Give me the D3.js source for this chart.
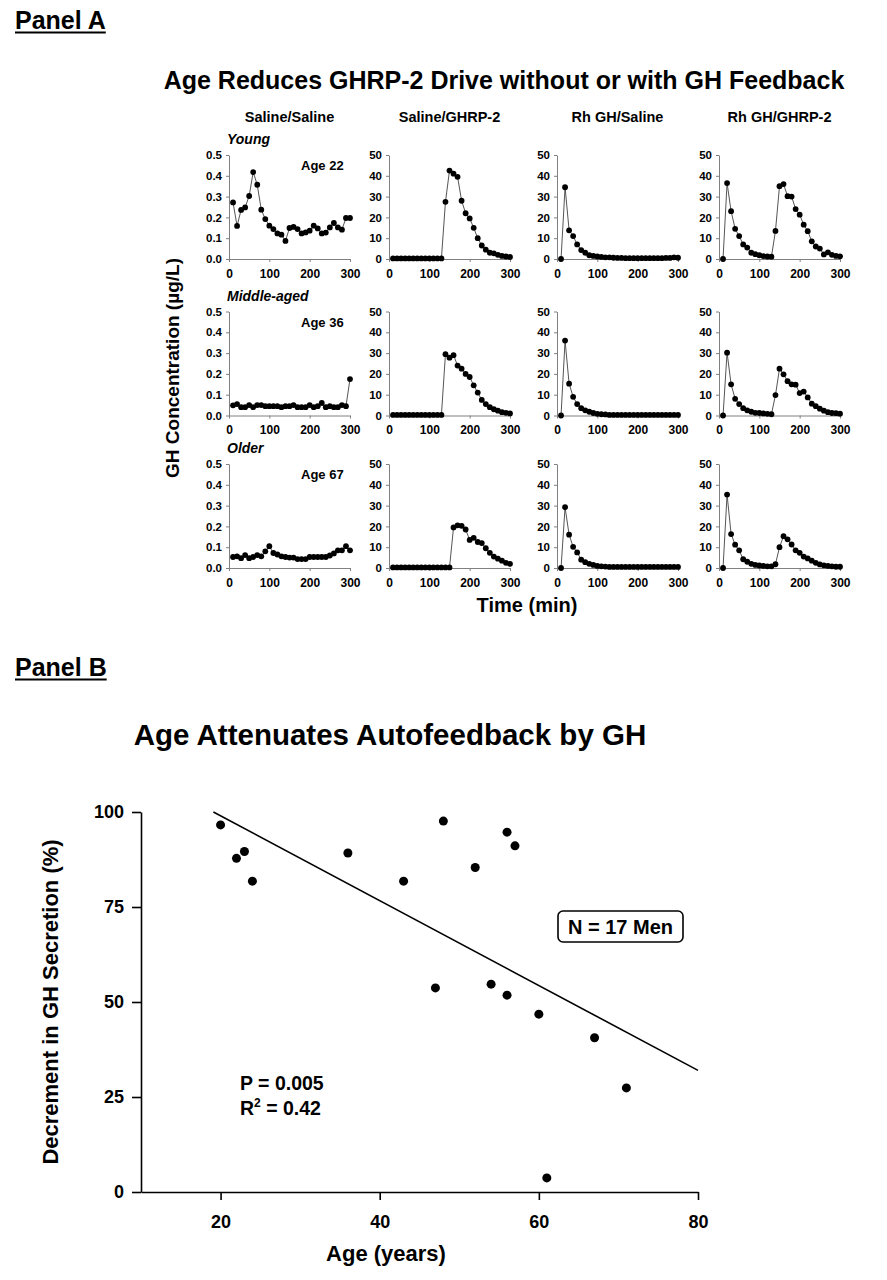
<!DOCTYPE html>
<html lang="en">
<head>
<meta charset="UTF-8">
<title>Age, GHRP-2 drive and GH autofeedback</title>
<script src="https://cdn.jsdelivr.net/npm/d3@7"></script>
<style>
  body { margin: 0; background: #fff; }
  svg { font-family: "Liberation Sans", Arial, sans-serif; font-weight: bold; }
</style>
</head>
<body>
<script>
// ---- Panel A data: GH (ug/L) sampled every 10 min ----
const minutes = [10, 20, 30, 40, 50, 60, 70, 80, 90, 100, 110, 120, 130, 140, 150,
                 160, 170, 180, 190, 200, 210, 220, 230, 240, 250, 260, 270, 280, 290, 300];

const conditions = ["Saline/Saline", "Saline/GHRP-2", "Rh GH/Saline", "Rh GH/GHRP-2"];
const groups = ["Young", "Middle-aged", "Older"];
const groupAges = ["Age 22", "Age 36", "Age 67"];

const youngSalSal = [0.272, 0.159, 0.236, 0.248, 0.303, 0.418, 0.357, 0.237, 0.192, 0.160, 0.144, 0.123, 0.117, 0.087, 0.149,
                     0.154, 0.144, 0.123, 0.128, 0.136, 0.160, 0.147, 0.123, 0.127, 0.152, 0.173, 0.152, 0.141, 0.197, 0.197];
const youngSalGhrp = [0.3, 0.3, 0.3, 0.3, 0.3, 0.3, 0.3, 0.3, 0.3, 0.3, 0.3, 0.3, 0.3, 27.5, 42.5,
                      41, 39.5, 28, 22, 19.5, 15, 10, 6.5, 4.5, 3, 2.7, 2, 1.5, 1.2, 1.0];
const youngGhSal = [0, 34.5, 13.8, 11, 7, 4.3, 3, 1.8, 1.5, 1.2, 1.0, 0.8, 0.8, 0.6, 0.5,
                    0.5, 0.4, 0.4, 0.4, 0.4, 0.4, 0.4, 0.4, 0.4, 0.4, 0.4, 0.5, 0.5, 0.8, 0.6];
const youngGhGhrp = [0, 36.5, 23, 14.5, 11, 7, 5.5, 3, 2.3, 1.8, 1.4, 1.2, 1.1, 13.5, 35,
                     36, 30.2, 30, 24, 21.3, 16.5, 13.4, 8.5, 6, 5, 2.2, 3.2, 2, 1.5, 1.3];

const midSalSal = [0.049, 0.055, 0.040, 0.040, 0.050, 0.040, 0.050, 0.050, 0.045, 0.045, 0.045, 0.045, 0.040, 0.045, 0.045,
                   0.050, 0.040, 0.040, 0.040, 0.050, 0.040, 0.045, 0.060, 0.040, 0.045, 0.040, 0.040, 0.050, 0.045, 0.175];
const midSalGhrp = [0.3, 0.3, 0.3, 0.3, 0.3, 0.3, 0.3, 0.3, 0.3, 0.3, 0.3, 0.3, 0.3, 29.5, 27.8,
                    29, 24, 22.5, 20, 18.5, 14.5, 11, 7.5, 5.5, 4, 3, 2.3, 1.6, 1.3, 1.0];
const midGhSal = [0, 36, 15.3, 9, 5.5, 3.5, 2.5, 1.8, 1.2, 0.8, 0.6, 0.5, 0.3, 0.3, 0.3,
                  0.3, 0.3, 0.3, 0.3, 0.3, 0.3, 0.3, 0.3, 0.3, 0.3, 0.3, 0.3, 0.3, 0.3, 0.3];
const midGhGhrp = [0, 30.2, 15, 8, 5.5, 3.5, 2.5, 1.8, 1.3, 1.2, 1, 0.8, 0.6, 9.8, 22.5,
                   19.8, 16.5, 15, 14.8, 10.8, 11.5, 8.7, 5.7, 4.5, 3.3, 2.3, 1.6, 1.2, 1.1, 0.9];

const oldSalSal = [0.053, 0.056, 0.047, 0.062, 0.047, 0.053, 0.062, 0.056, 0.080, 0.105, 0.072, 0.065, 0.056, 0.053, 0.050,
                   0.050, 0.043, 0.043, 0.043, 0.053, 0.053, 0.053, 0.053, 0.053, 0.060, 0.070, 0.085, 0.085, 0.105, 0.085];
const oldSalGhrp = [0.3, 0.3, 0.3, 0.3, 0.3, 0.3, 0.3, 0.3, 0.3, 0.3, 0.3, 0.3, 0.3, 0.3, 0.3,
                    19.5, 20.5, 20.3, 18.5, 13.5, 14.5, 12.5, 12, 9.5, 7.3, 5.5, 4.5, 3.5, 2.5, 2.0];
const oldGhSal = [0, 29.2, 16, 10.2, 7.5, 4, 2.8, 2, 1.5, 1, 0.8, 0.7, 0.5, 0.5, 0.5,
                  0.5, 0.5, 0.5, 0.5, 0.5, 0.5, 0.5, 0.5, 0.5, 0.5, 0.5, 0.5, 0.5, 0.5, 0.5];
const oldGhGhrp = [0, 35.3, 16.3, 11.2, 8.5, 4.2, 3, 2, 1.5, 1.2, 1, 0.8, 0.8, 1.8, 10,
                   15.3, 13.8, 11.3, 8.5, 7.3, 5.5, 4.6, 3.5, 2.5, 1.7, 1.3, 1, 0.8, 0.6, 0.6];

const timeTicks = [0, 100, 200, 300];
const salineTicks = [0, 0.1, 0.2, 0.3, 0.4, 0.5];
const ghrpTicks = [0, 10, 20, 30, 40, 50];

// ---- Panel B data ----
const ages = [20, 22, 23, 24, 36, 43, 47, 48, 52, 54, 56, 56, 57, 60, 61, 67, 71];
const decrement = [96.6, 87.8, 89.6, 81.8, 89.2, 81.8, 53.7, 97.6, 85.4, 54.7, 94.7, 51.8, 91.1, 46.8, 3.7, 40.6, 27.4];
const fitAge = [19.1, 80];
const fitPct = [100, 32];
const ageTicks = [20, 40, 60, 80];
const pctTicks = [0, 25, 50, 75, 100];

const series = [
  [youngSalSal, youngSalGhrp, youngGhSal, youngGhGhrp],
  [midSalSal, midSalGhrp, midGhSal, midGhGhrp],
  [oldSalSal, oldSalGhrp, oldGhSal, oldGhGhrp]
];

const width = 887, height = 1280;
const svg = d3.select("body").append("svg")
  .attr("width", width)
  .attr("height", height);

// underlined panel heading
function panelLabel(txt, x, y) {
  const t = svg.append("text").attr("x", x).attr("y", y)
    .attr("font-size", 25).text(txt);
  const w = t.node().getComputedTextLength();
  svg.append("line").attr("x1", x).attr("x2", x + w)
    .attr("y1", y + 3.5).attr("y2", y + 3.5)
    .attr("stroke", "#000").attr("stroke-width", 2);
}

// ================= Panel A =================
panelLabel("Panel A", 15, 29);

svg.append("text").attr("x", 504).attr("y", 89)
  .attr("text-anchor", "middle").attr("font-size", 25)
  .text("Age Reduces GHRP-2 Drive without or with GH Feedback");

const colX = [229, 389, 557, 719];
const rowTop = [155, 311.5, 464];
const plotW = 121, plotH = 104;

conditions.forEach((c, i) => {
  svg.append("text").attr("x", colX[i] + plotW / 2).attr("y", 122)
    .attr("text-anchor", "middle").attr("font-size", 14.5).text(c);
});

const x = d3.scaleLinear().domain([0, 300]).range([0, plotW]);

groups.forEach((grp, r) => {
  svg.append("text").attr("x", colX[0] - 2).attr("y", rowTop[r] - 11)
    .attr("font-size", 14).attr("font-style", "italic").text(grp);

  conditions.forEach((cond, c) => {
    const g = svg.append("g").attr("transform", `translate(${colX[c]},${rowTop[r]})`);
    const low = c === 0;
    const y = d3.scaleLinear().domain(low ? [0, 0.5] : [0, 50]).range([plotH, 0]);

    const ya = g.append("g").call(d3.axisLeft(y)
      .tickValues(low ? salineTicks : ghrpTicks)
      .tickFormat(low ? d3.format(".1f") : d3.format("d"))
      .tickSize(3).tickSizeOuter(0).tickPadding(4));
    const xa = g.append("g").attr("transform", `translate(0,${plotH})`)
      .call(d3.axisBottom(x).tickValues(timeTicks)
        .tickSize(3).tickSizeOuter(0).tickPadding(7));
    [ya, xa].forEach(a => {
      a.attr("font-family", null).attr("font-size", 11.5);
      a.select(".domain").attr("stroke", "#808080");
      a.selectAll(".tick line").attr("stroke", "#808080");
      a.selectAll(".tick text").attr("fill", "#000");
    });
    xa.attr("font-size", 12);

    const vals = series[r][c];
    const line = d3.line().x((d, i) => x(minutes[i])).y(d => y(d));
    g.append("path").datum(vals)
      .attr("d", line).attr("fill", "none")
      .attr("stroke", "#555").attr("stroke-width", 1);
    g.selectAll("circle").data(vals).join("circle")
      .attr("cx", (d, i) => x(minutes[i])).attr("cy", d => y(d))
      .attr("r", 2.9).attr("fill", "#000");

    if (low) {
      g.append("text").attr("x", 72).attr("y", 15)
        .attr("font-size", 13).text(groupAges[r]);
    }
  });
});

svg.append("text").attr("x", 527).attr("y", 612)
  .attr("text-anchor", "middle").attr("font-size", 20).text("Time (min)");

svg.append("text")
  .attr("transform", "translate(179,368) rotate(-90)")
  .attr("text-anchor", "middle").attr("font-size", 19)
  .text("GH Concentration (\u00b5g/L)");

// ================= Panel B =================
panelLabel("Panel B", 15, 676);

svg.append("text").attr("x", 390).attr("y", 745)
  .attr("text-anchor", "middle").attr("font-size", 29.5)
  .text("Age Attenuates Autofeedback by GH");

const xB = d3.scaleLinear().domain([10, 80]).range([141, 698]);
const yB = d3.scaleLinear().domain([0, 100]).range([1192, 812]);

const yAxB = svg.append("g").attr("transform", `translate(${xB(10)},0)`)
  .call(d3.axisLeft(yB).tickValues(pctTicks).tickSize(9).tickSizeOuter(0).tickPadding(8));
const xAxB = svg.append("g").attr("transform", `translate(0,${yB(0)})`)
  .call(d3.axisBottom(xB).tickValues(ageTicks).tickSize(8).tickSizeOuter(0).tickPadding(15));
[yAxB, xAxB].forEach(a => {
  a.attr("font-family", null).attr("font-size", 18);
  a.select(".domain").attr("stroke", "#000").attr("stroke-width", 1.6);
  a.selectAll(".tick line").attr("stroke", "#000").attr("stroke-width", 1.6);
  a.selectAll(".tick text").attr("fill", "#000");
});

svg.append("path")
  .datum(fitAge.map((a, i) => [a, fitPct[i]]))
  .attr("d", d3.line().x(d => xB(d[0])).y(d => yB(d[1])))
  .attr("fill", "none").attr("stroke", "#000").attr("stroke-width", 1.6);

svg.append("g").selectAll("circle")
  .data(ages.map((a, i) => [a, decrement[i]]))
  .join("circle")
  .attr("cx", d => xB(d[0])).attr("cy", d => yB(d[1]))
  .attr("r", 4.5).attr("fill", "#000");

// N box
svg.append("rect").attr("x", 558).attr("y", 911).attr("width", 125).attr("height", 31)
  .attr("rx", 5).attr("fill", "#fff").attr("stroke", "#000").attr("stroke-width", 1.6);
svg.append("text").attr("x", 620.5).attr("y", 934)
  .attr("text-anchor", "middle").attr("font-size", 20).text("N = 17 Men");

svg.append("text").attr("x", 240).attr("y", 1090)
  .attr("font-size", 19.5).text("P = 0.005");
const r2 = svg.append("text").attr("x", 240).attr("y", 1115).attr("font-size", 19.5);
r2.append("tspan").text("R");
r2.append("tspan").attr("font-size", 12).attr("dy", -8).text("2");
r2.append("tspan").attr("dy", 8).text(" = 0.42");

svg.append("text").attr("x", 386).attr("y", 1261)
  .attr("text-anchor", "middle").attr("font-size", 22).text("Age (years)");

svg.append("text")
  .attr("transform", "translate(58,1002) rotate(-90)")
  .attr("text-anchor", "middle").attr("font-size", 22)
  .text("Decrement in GH Secretion (%)");
</script>
</body>
</html>
